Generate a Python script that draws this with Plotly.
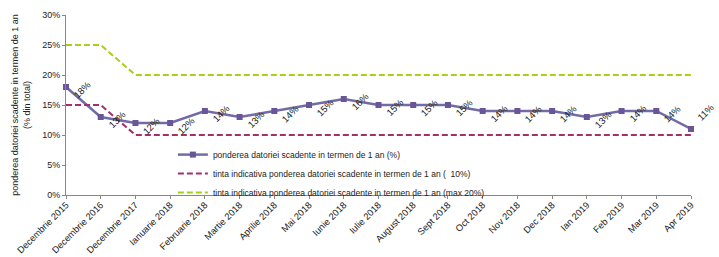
import plotly.graph_objects as go

categories = ["Decembrie 2015", "Decembrie 2016", "Decembrie 2017", "Ianuarie 2018",
              "Februarie 2018", "Martie 2018", "Aprilie 2018", "Mai 2018", "Iunie 2018",
              "Iulie 2018", "August 2018", "Sept 2018", "Oct 2018", "Nov 2018",
              "Dec 2018", "Ian 2019", "Feb 2019", "Mar 2019", "Apr 2019"]
pondere = [18, 13, 12, 12, 14, 13, 14, 15, 16, 15, 15, 15, 14, 14, 14, 13, 14, 14, 11]
tinta_min = [15, 15, 10, 10, 10, 10, 10, 10, 10, 10, 10, 10, 10, 10, 10, 10, 10, 10, 10]
tinta_max = [25, 25, 20, 20, 20, 20, 20, 20, 20, 20, 20, 20, 20, 20, 20, 20, 20, 20, 20]

names = ["ponderea datoriei scadente in termen de 1 an (%)",
         "tinta indicativa ponderea datoriei scadente in termen de 1 an (  10%)",
         "tinta indicativa ponderea datoriei scadente in termen de 1 an (max 20%)"]

FONT = "Liberation Sans, Arial, sans-serif"
fig = go.Figure()
fig.add_trace(go.Scatter(x=categories, y=pondere, name=names[0], mode="lines+markers",
                         line=dict(color="#716CA6", width=2.5),
                         marker=dict(symbol="square", size=6, color="#6A5597"),
                         cliponaxis=False))
fig.add_trace(go.Scatter(x=categories, y=tinta_min, name=names[1], mode="lines",
                         line=dict(color="#A3306B", width=2, dash="6px,3px"),
                         cliponaxis=False))
fig.add_trace(go.Scatter(x=categories, y=tinta_max, name=names[2], mode="lines",
                         line=dict(color="#A8CF1A", width=2, dash="6px,3px"),
                         cliponaxis=False))

n = len(categories)
for i, (c, v) in enumerate(zip(categories, pondere)):
    last = i == n - 1
    fig.add_annotation(x=c, y=v, text=f"{v}%", showarrow=False, textangle=-45,
                       xshift=14 if last else 16, yshift=17 if last else -2,
                       font=dict(family=FONT, size=9.5, color="#222"))

fig.update_layout(
    width=719, height=257,
    margin=dict(l=66, r=28, t=15, b=62),
    paper_bgcolor="white", plot_bgcolor="white",
    font=dict(family=FONT, size=9, color="#222"),
    showlegend=True,
    legend=dict(x=0.171, y=0.305, xanchor="left", yanchor="top",
                bgcolor="rgba(0,0,0,0)", font=dict(family=FONT, size=8.5, color="#222"),
                itemwidth=30, tracegroupgap=0),
)
fig.update_xaxes(type="category", range=[0, n - 1], showgrid=False, showline=True,
                 linecolor="#888", linewidth=1, ticks="outside", ticklen=3,
                 tickcolor="#888", tickangle=-45, automargin=False,
                 ticklabelstandoff=-3,
                 tickfont=dict(size=9.3, family=FONT))
fig.update_yaxes(range=[0, 30], dtick=5, ticksuffix="%", showgrid=False, showline=True,
                 linecolor="#888", linewidth=1, ticks="outside", ticklen=3,
                 tickcolor="#888", zeroline=False, automargin=False,
                 tickfont=dict(size=9, family=FONT),
                 title=dict(text="ponderea datoriei scadente in termen de 1 an<br>(% din total)",
                            font=dict(size=9, family=FONT), standoff=10))

fig.write_html("out.html", config={"displayModeBar": False},
               post_script="document.body.style.margin='0';document.body.style.overflow='hidden';")
